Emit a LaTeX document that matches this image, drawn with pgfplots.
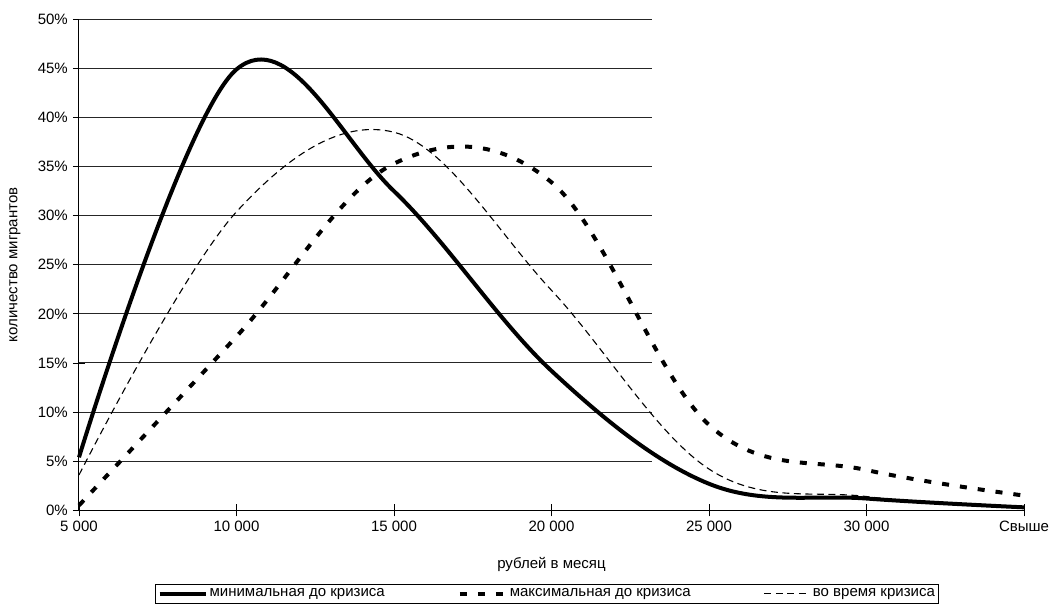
\documentclass[border=0pt]{standalone}
\usepackage{fontspec}
\setmainfont{Liberation Sans}
\usepackage{pgfplots}
\pgfplotsset{compat=1.18}

\begin{document}
\begin{tikzpicture}
\fontsize{15pt}{18pt}\selectfont
\begin{axis}[
    name=ax,
    scale only axis,
    width=945pt, height=491pt,
    xmin=0, xmax=6,
    ymin=0, ymax=50,
    axis lines=left,
    axis line style={-, line width=1pt},
    xtick={0,1,2,3,4,5,6},
    xticklabels={5 000, 10 000, 15 000, 20 000, 25 000, 30 000, Свыше},
    ytick={0,5,...,50},
    yticklabels={0\%,5\%,10\%,15\%,20\%,25\%,30\%,35\%,40\%,45\%,50\%},
    tick align=center,
    major tick length=12pt,
    tick style={black, line width=0.8pt},
    ticklabel style={font=\fontsize{15pt}{18pt}\selectfont},
    /pgf/number format/assume math mode=true,
    xlabel={рублей в месяц},
    ylabel={количество мигрантов},
    label style={font=\fontsize{15pt}{18pt}\selectfont},
    xlabel style={at={(axis description cs:0.5,-0.110)}, anchor=center},
    ylabel style={at={(axis description cs:-0.0677,0.5)}, anchor=center},
    clip=false,
    legend columns=3,
    legend style={
        at={(0.4955,-0.1507)}, anchor=north,
        draw=black, line width=0.8pt,
        font=\fontsize{15pt}{18pt}\selectfont,
        inner sep=2pt,
        nodes={inner xsep=2pt},
        /tikz/every even column/.append style={column sep=71pt},
    },
    legend cell align=left,
    legend image code/.code={\draw[#1] (0pt,0pt) -- (46pt,0pt);},
]
% horizontal grid lines (they stop short of the right side in the original)
\pgfplotsinvokeforeach{5,10,...,50}{
  \addplot[black!85, line width=1pt, forget plot] coordinates {(0,#1) (3.64,#1)};
}

\addplot[black, line width=4pt, smooth, tension=0.6] coordinates {
    (0, 5.4) (1, 44.9) (2, 32.5) (3, 14.2) (4, 2.7) (5, 1.2) (6, 0.3)
};
\addplot[black, line width=4pt, dash pattern=on 7pt off 11pt, smooth, tension=0.6] coordinates {
    (0, 0.5) (1, 17.7) (2, 35.3) (3, 33.4) (4, 8.7) (5, 4.1) (6, 1.5)
};
\addplot[black, line width=1.1pt, dash pattern=on 7pt off 4.5pt, smooth, tension=0.6] coordinates {
    (0, 3.6) (1, 30.4) (2, 38.5) (3, 22.4) (4, 4.2) (5, 1.4) (6, 0.2)
};
\legend{минимальная до кризиса, максимальная до кризиса, во время кризиса}
\end{axis}
\path ([shift={(-79pt,-105pt)}]ax.south west) rectangle ([shift={(30pt,19.3pt)}]ax.north east);
\end{tikzpicture}
\end{document}
